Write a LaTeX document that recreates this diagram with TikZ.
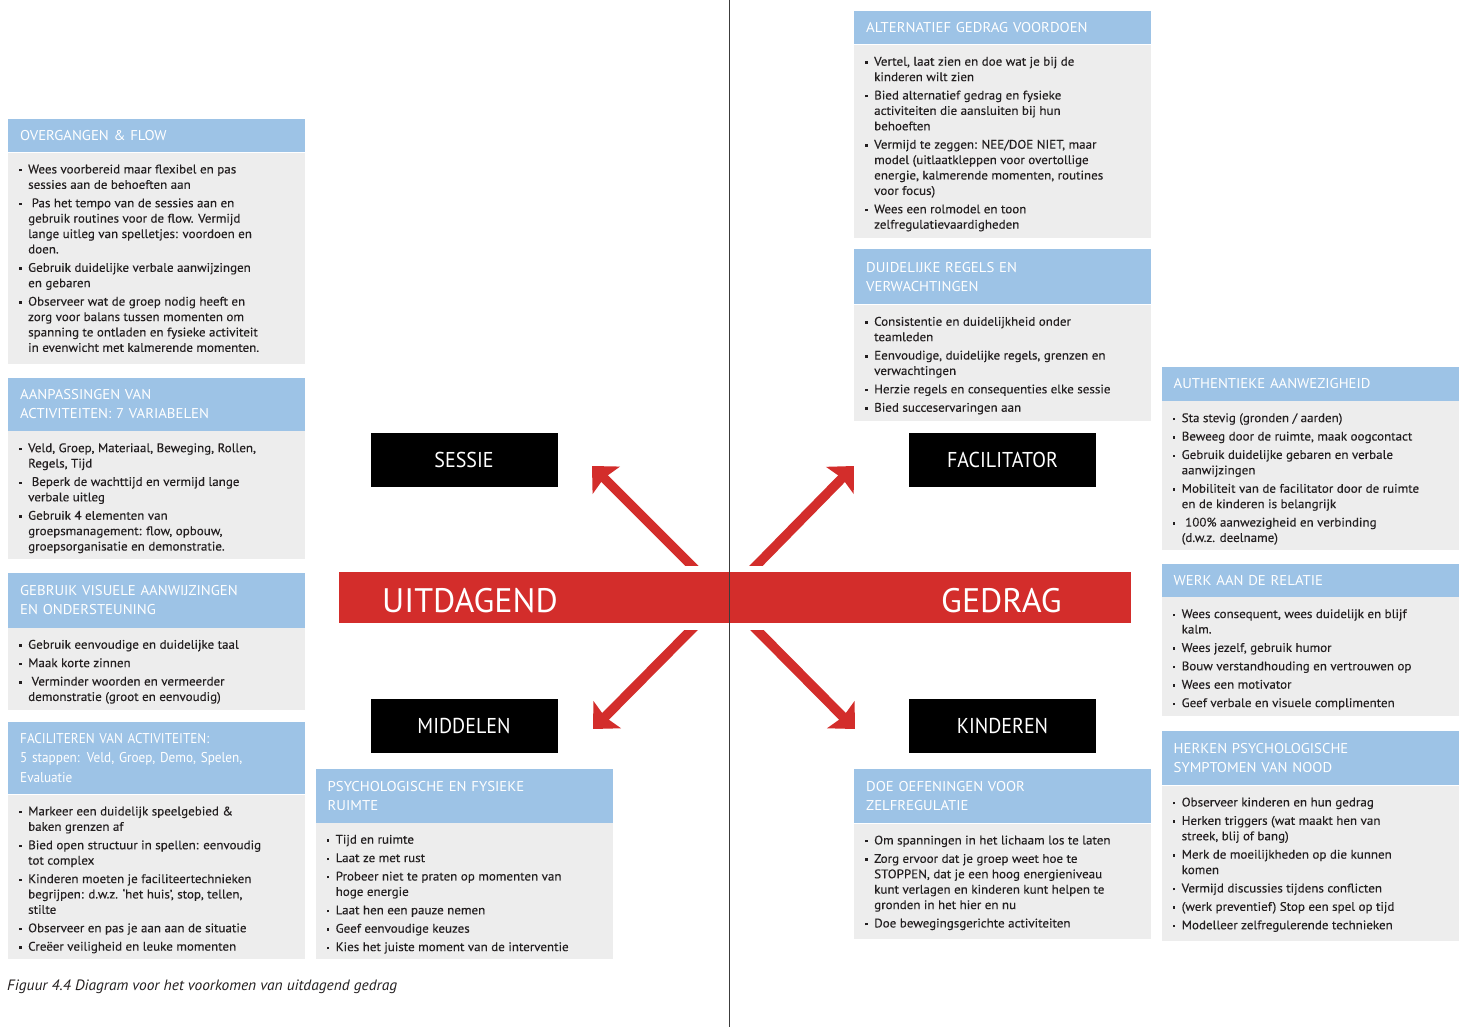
\documentclass[tikz,border=0pt]{standalone}
\usepackage{fontspec}
\setmainfont{PT Sans}
\newfontfamily\condfont[FakeStretch=0.93]{PT Sans}
\newfontfamily\bodyfont[FakeStretch=1.05,FakeBold=0.25]{PT Sans}
\newfontfamily\hdrfont[FakeStretch=1.04]{PT Sans}
\newfontfamily\hdrcond[FakeStretch=0.93]{PT Sans}
\newfontfamily\capfont[FakeStretch=1.03]{PT Sans}
\usetikzlibrary{arrows.meta,calc}
\definecolor{hdrblue}{RGB}{157,195,230}
\definecolor{bodygray}{RGB}{237,237,237}
\definecolor{barred}{RGB}{211,45,43}
\definecolor{txtdark}{RGB}{35,31,32}
\definecolor{vlinegray}{RGB}{60,60,60}
\newcommand\bu{\makebox[9pt][l]{\raisebox{2pt}{\rule{2.4pt}{2.4pt}}}}
\newcommand\cn{\hspace*{9pt}}
\newcommand\infobox[7]{%
  \node[hdr, minimum height=#4pt, anchor=north west] (#1-h) at (#2,#3) {#6};
  \node[bdy, minimum height=#5pt, anchor=north west] (#1-b) at (#1-h.south west) {};
  \node[btxt, anchor=north west] (#1-t) at ($(#1-b.north west)+(11,12)$) {#7};
}
\tikzset{
  hdr/.style={rectangle, fill=hdrblue, minimum width=297pt, text width=273pt,
    inner xsep=12pt, inner ysep=0pt, align=left, text=white,
    font=\hdrfont\fontsize{14.2}{19.6}\selectfont},
  bdy/.style={rectangle, fill=bodygray, minimum width=297pt, inner sep=0pt},
  btxt/.style={inner sep=0pt, align=left, text=txtdark,
    font=\bodyfont\fontsize{12.4}{15.4}\selectfont},
  blackbox/.style={rectangle, fill=black, minimum width=187pt, minimum height=54pt,
    inner sep=0pt, text=white, font=\condfont\fontsize{21.5}{24}\selectfont},
  bar/.style={rectangle, fill=barred, minimum width=792pt, minimum height=51pt, inner sep=0pt},
  bartext/.style={inner sep=0pt, text=white, font=\fontsize{34}{40}\selectfont},
  redarrow/.style={draw=barred, line width=9.5pt,
    -{Stealth[length=20pt, width=38pt, inset=3pt]}},
  vline/.style={draw=vlinegray, line width=0.8pt},
  captiontext/.style={inner sep=0pt, text=txtdark, font=\capfont\itshape\fontsize{15}{17}\selectfont}
}
\begin{document}
\begin{tikzpicture}[x=1pt, y=-1pt]
\useasboundingbox[fill=white] (0,0) rectangle (1468,1027);

% ---------- left column ----------
\infobox{ov}{8}{119}{33}{211}{OVERGANGEN \& FLOW}{%
\bu Wees voorbereid maar flexibel en pas\\
\cn sessies aan de behoeften aan\\[3pt]
\bu\ Pas het tempo van de sessies aan en\\
\cn gebruik routines voor de flow. Vermijd\\
\cn lange uitleg van spelletjes: voordoen en\\
\cn doen.\\[3pt]
\bu Gebruik duidelijke verbale aanwijzingen\\
\cn en gebaren\\[3pt]
\bu Observeer wat de groep nodig heeft en\\
\cn zorg voor balans tussen momenten om\\
\cn spanning te ontladen en fysieke activiteit\\
\cn in evenwicht met kalmerende momenten.}

\infobox{aa}{8}{377.3}{53.4}{127.6}{AANPASSINGEN VAN\\ACTIVITEITEN: 7 VARIABELEN}{%
\bu Veld, Groep, Materiaal, Beweging, Rollen,\\
\cn Regels, Tijd\\[3pt]
\bu\ Beperk de wachttijd en vermijd lange\\
\cn verbale uitleg\\[3pt]
\bu Gebruik 4 elementen van\\
\cn groepsmanagement: flow, opbouw,\\
\cn groepsorganisatie en demonstratie.}

\infobox{gv}{8}{572.3}{55}{82}{GEBRUIK VISUELE AANWIJZINGEN\\EN ONDERSTEUNING}{%
\bu Gebruik eenvoudige en duidelijke taal\\[3pt]
\bu Maak korte zinnen\\[3pt]
\bu\ Verminder woorden en vermeerder\\
\cn demonstratie (groot en eenvoudig)}

\infobox{fa}{8}{721.5}{72.5}{164.3}{\hdrcond FACILITEREN VAN ACTIVITEITEN:\\5 stappen: Veld, Groep, Demo, Spelen,\\Evaluatie}{%
\bu Markeer een duidelijk speelgebied \&\\
\cn baken grenzen af\\[3pt]
\bu Bied open structuur in spellen: eenvoudig\\
\cn tot complex\\[3pt]
\bu Kinderen moeten je faciliteertechnieken\\
\cn begrijpen: d.w.z. ‘het huis’, stop, tellen,\\
\cn stilte\\[3pt]
\bu Observeer en pas je aan aan de situatie\\[3pt]
\bu Creëer veiligheid en leuke momenten}

\infobox{ps}{315.5}{769}{53.3}{136}{PSYCHOLOGISCHE EN FYSIEKE\\RUIMTE}{%
\bu Tijd en ruimte\\[3pt]
\bu Laat ze met rust\\[3pt]
\bu Probeer niet te praten op momenten van\\
\cn hoge energie\\[3pt]
\bu Laat hen een pauze nemen\\[3pt]
\bu Geef eenvoudige keuzes\\[3pt]
\bu Kies het juiste moment van de interventie}

% ---------- right columns ----------
\infobox{al}{854}{10.7}{33.6}{193.4}{ALTERNATIEF GEDRAG VOORDOEN}{%
\bu Vertel, laat zien en doe wat je bij de\\
\cn kinderen wilt zien\\[3pt]
\bu Bied alternatief gedrag en fysieke\\
\cn activiteiten die aansluiten bij hun\\
\cn behoeften\\[3pt]
\bu Vermijd te zeggen: NEE/DOE NIET, maar\\
\cn model (uitlaatkleppen voor overtollige\\
\cn energie, kalmerende momenten, routines\\
\cn voor focus)\\[3pt]
\bu Wees een rolmodel en toon\\
\cn zelfregulatievaardigheden}

\infobox{du}{854}{249.3}{55}{115.7}{DUIDELIJKE REGELS EN\\VERWACHTINGEN}{%
\bu Consistentie en duidelijkheid onder\\
\cn teamleden\\[3pt]
\bu Eenvoudige, duidelijke regels, grenzen en\\
\cn verwachtingen\\[3pt]
\bu Herzie regels en consequenties elke sessie\\[3pt]
\bu Bied succeservaringen aan}

\infobox{do}{854}{769}{54}{115}{DOE OEFENINGEN VOOR\\ZELFREGULATIE}{%
\bu Om spanningen in het lichaam los te laten\\[3pt]
\bu Zorg ervoor dat je groep weet hoe te\\
\cn STOPPEN, dat je een hoog energieniveau\\
\cn kunt verlagen en kinderen kunt helpen te\\
\cn gronden in het hier en nu\\[3pt]
\bu Doe bewegingsgerichte activiteiten}

\infobox{au}{1161.5}{366.7}{34}{148.6}{AUTHENTIEKE AANWEZIGHEID}{%
\bu Sta stevig (gronden / aarden)\\[3pt]
\bu Beweeg door de ruimte, maak oogcontact\\[3pt]
\bu Gebruik duidelijke gebaren en verbale\\
\cn aanwijzingen\\[3pt]
\bu Mobiliteit van de facilitator door de ruimte\\
\cn en de kinderen is belangrijk\\[3pt]
\bu\ 100\% aanwezigheid en verbinding\\
\cn (d.w.z. deelname)}

\infobox{we}{1161.5}{563.3}{33.4}{118.3}{WERK AAN DE RELATIE}{%
\bu Wees consequent, wees duidelijk en blijf\\
\cn kalm.\\[3pt]
\bu Wees jezelf, gebruik humor\\[3pt]
\bu Bouw verstandhouding en vertrouwen op\\[3pt]
\bu Wees een motivator\\[3pt]
\bu Geef verbale en visuele complimenten}

\infobox{he}{1161.5}{730.7}{54.3}{155}{HERKEN PSYCHOLOGISCHE\\SYMPTOMEN VAN NOOD}{%
\bu Observeer kinderen en hun gedrag\\[3pt]
\bu Herken triggers (wat maakt hen van\\
\cn streek, blij of bang)\\[3pt]
\bu Merk de moeilijkheden op die kunnen\\
\cn komen\\[3pt]
\bu Vermijd discussies tijdens conflicten\\[3pt]
\bu (werk preventief) Stop een spel op tijd\\[3pt]
\bu Modelleer zelfregulerende technieken}

% ---------- centre ----------
\node[bar] (bar) at (735,597.5) {};
\node[bartext, anchor=base west] (uit) at (382,612) {UITDAGEND};
\node[bartext, anchor=base west] (ged) at (941,612) {GEDRAG};

\node[blackbox] (sessie) at (464,460) {SESSIE};
\node[blackbox] (facil) at (1002.5,460) {FACILITATOR};
\node[blackbox] (midd) at (464,726) {MIDDELEN};
\node[blackbox] (kind) at (1002.5,726) {KINDEREN};

\coordinate (ulS) at (698,572); \coordinate (ulT) at (592,466);
\coordinate (urS) at (750,572); \coordinate (urT) at (854,466);
\coordinate (llS) at (698,623); \coordinate (llT) at (593,729);
\coordinate (lrS) at (750,623); \coordinate (lrT) at (855,729);
\begin{scope}
  \clip (0,0) rectangle (1468,565);
  \draw[redarrow] (ulS) -- (ulT);
  \draw[redarrow] (urS) -- (urT);
\end{scope}
\begin{scope}
  \clip (0,630) rectangle (1468,1027);
  \draw[redarrow] (llS) -- (llT);
  \draw[redarrow] (lrS) -- (lrT);
\end{scope}

\coordinate (vtop) at (729.5,0);
\coordinate (vbot) at (729.5,1027);
\draw[vline] (vtop) -- (vbot);

\node[captiontext, anchor=base west] (cap) at (7,990) {Figuur 4.4 Diagram voor het voorkomen van uitdagend gedrag};
\end{tikzpicture}
\end{document}
